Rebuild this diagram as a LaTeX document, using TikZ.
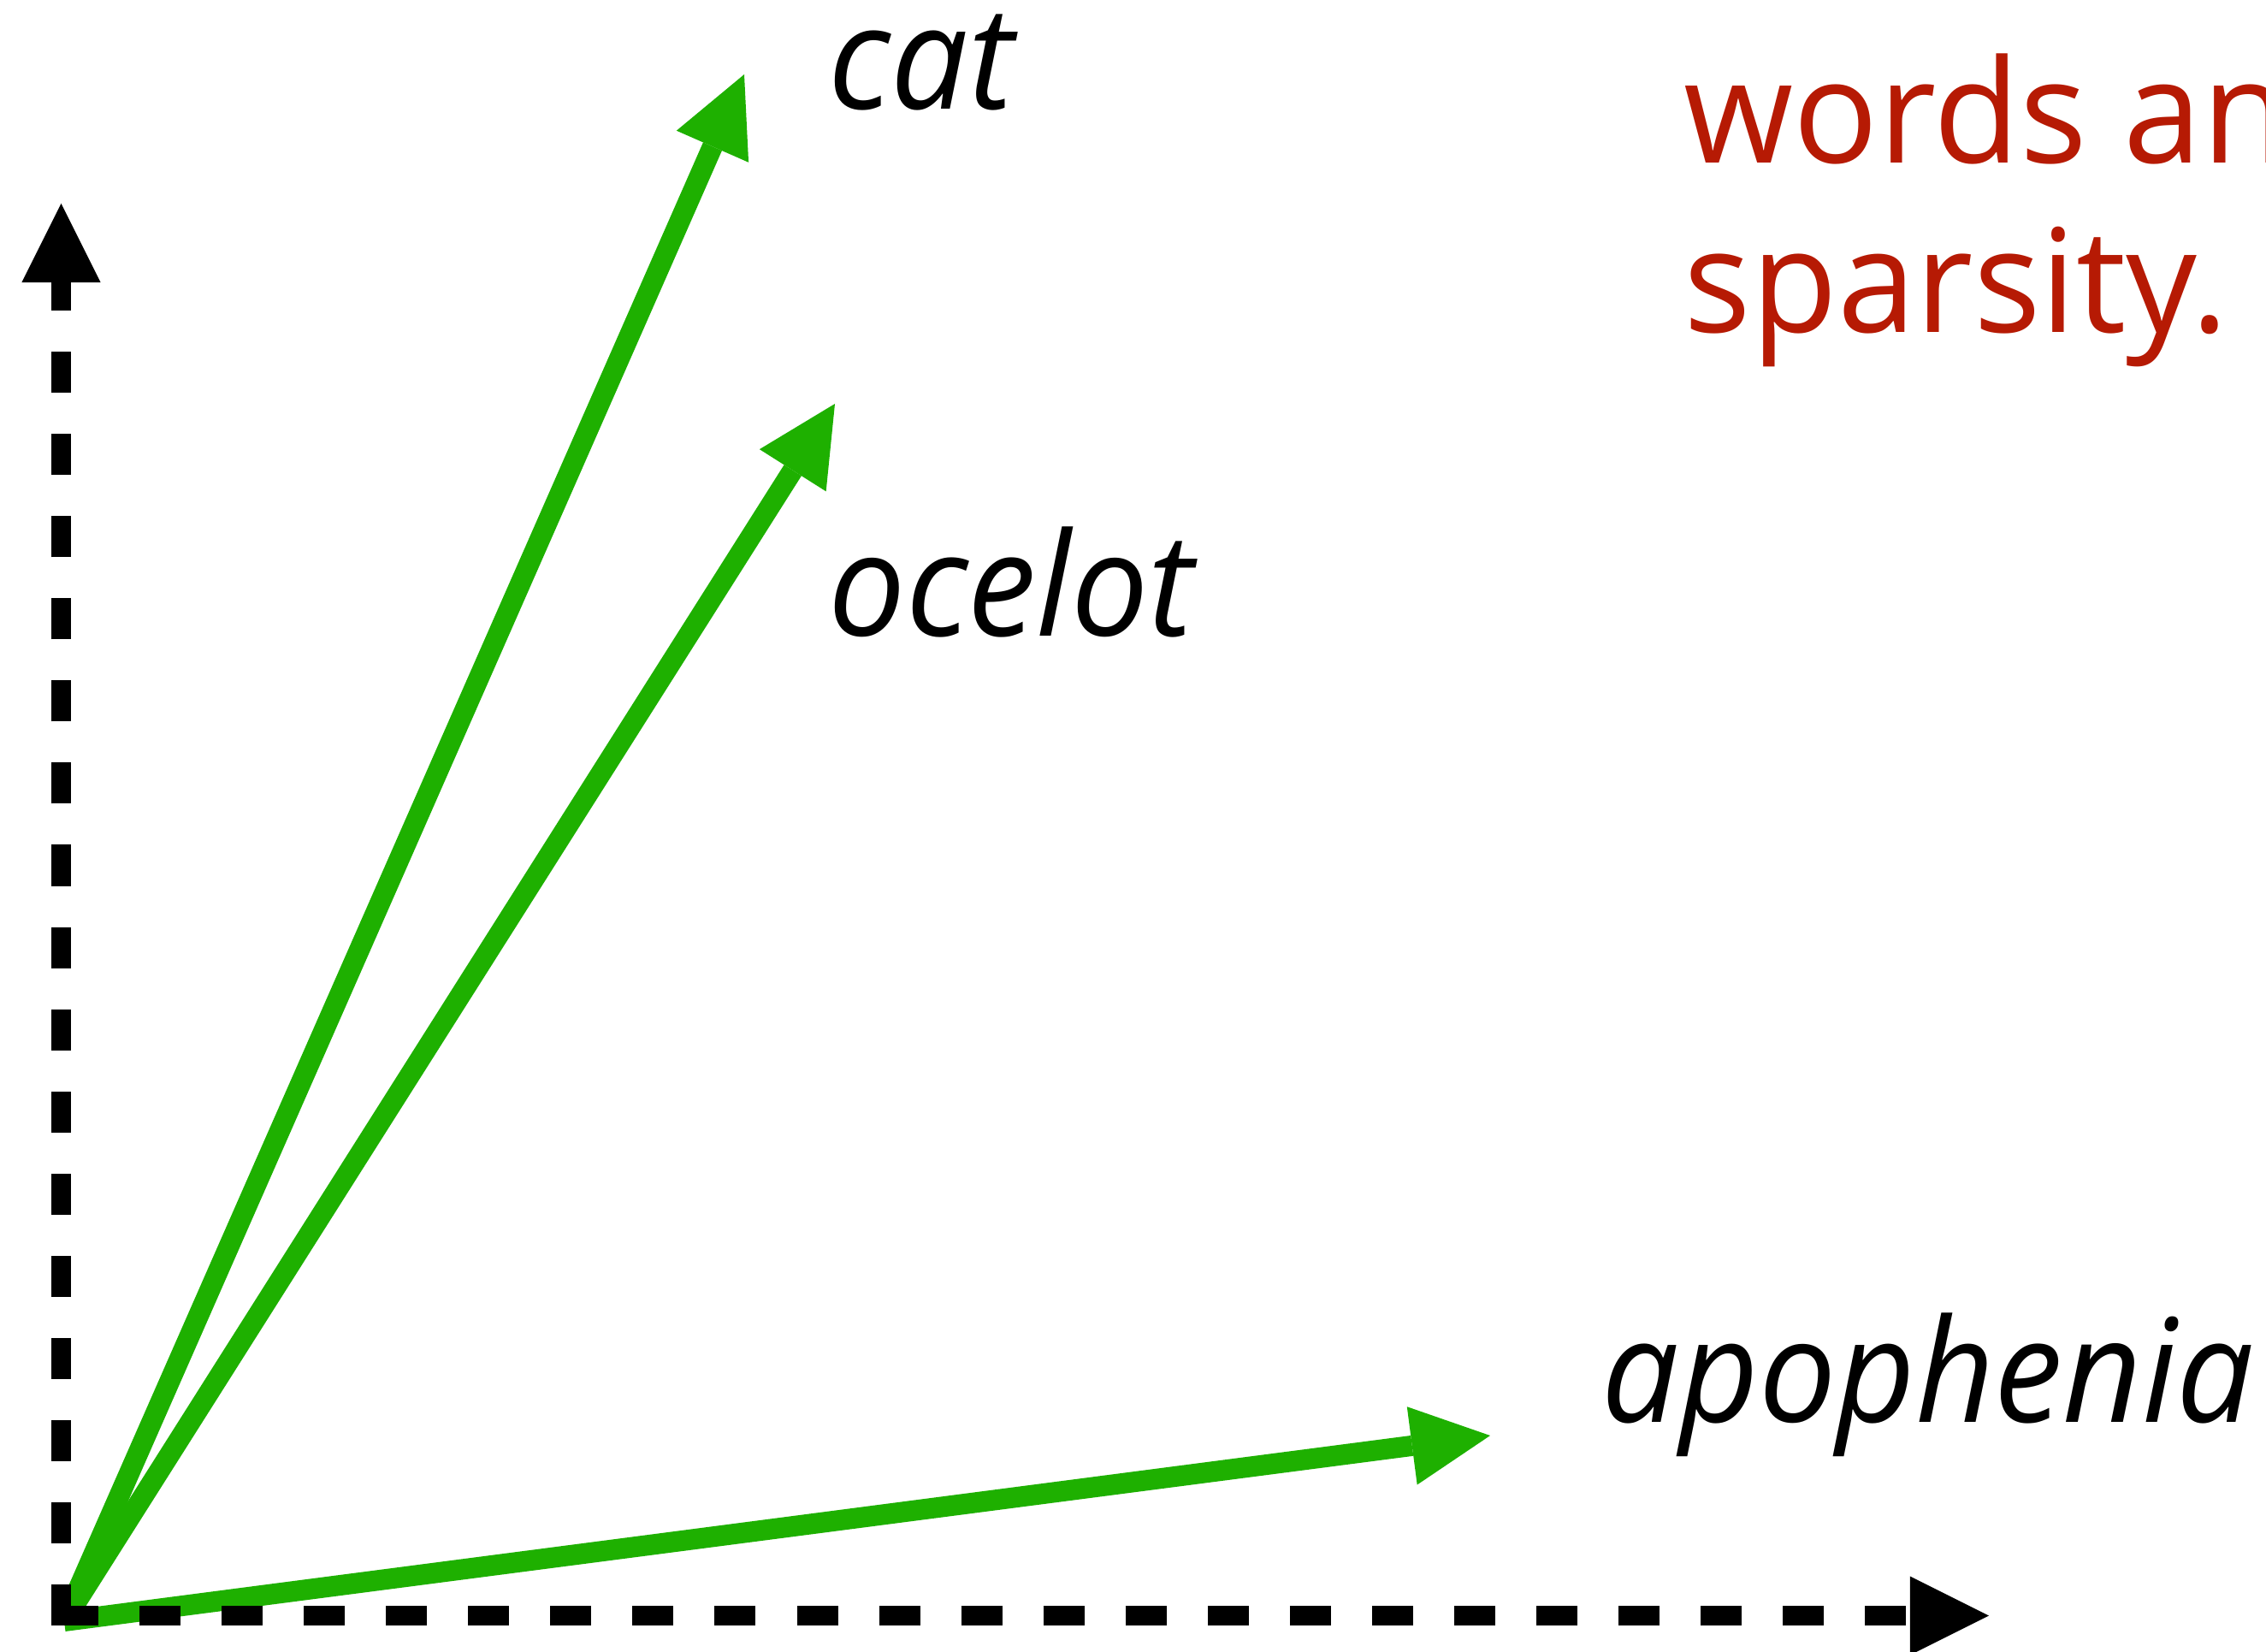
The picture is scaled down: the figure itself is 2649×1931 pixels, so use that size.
\documentclass[tikz,border=0pt]{standalone}
\usepackage{fontspec}
\setmainfont{Open Sans}[FakeStretch=0.955]
\newfontfamily\notefont{Open Sans}[FakeStretch=0.98]
\usetikzlibrary{arrows.meta}
\definecolor{vecgreen}{RGB}{30,176,0}
\definecolor{notered}{RGB}{182,26,4}
\tikzset{
    axis/.style={line width=0.23cm, dash pattern=on 0.48cm off 0.48cm,
        -{Triangle[length=0.92cm,width=0.92cm,line width=0pt]}},
    vec/.style={line width=0.24cm, vecgreen,
        -{Triangle[length=0.92cm,width=0.92cm,line width=0pt]}},
    word/.style={anchor=base west, inner sep=0pt, font=\fontsize{47.8}{58}\selectfont\itshape},
    note/.style={anchor=base west, inner sep=0pt, text=notered, font=\notefont\fontsize{47.8}{58}\selectfont}
}
\begin{document}
\begin{tikzpicture}[x={(0.01cm,0)}, y={(0,-0.01cm)}]
            \useasboundingbox (0,0) rectangle (2649,1931);
            \coordinate (o) at (75,1895);
            \coordinate (catv) at (870,87);
            \coordinate (ocelotv) at (976,472);
            \coordinate (apopheniav) at (1742,1678);
            \coordinate (xo) at (67,1888.5);
            \coordinate (xend) at (2325,1888.5);
            \coordinate (yo) at (71.5,1900);
            \coordinate (yend) at (71.5,238);
            \draw[vec] (o) -- (catv);
            \draw[vec] (o) -- (ocelotv);
            \draw[vec] (o) -- (apopheniav);
            \draw[axis] (yo) -- (yend);
            \draw[axis] (xo) -- (xend);
            \node[word] at (968,128) (cat) {cat};
            \node[word] at (968,743) (ocelot) {ocelot};
            \node[word] at (1872,1662) (apophenia) {apophenia};
            \node[note] at (1968,191) (words) {words an};
            \node[note] at (1968,389) (sparsity) {sparsity.};
        \end{tikzpicture}
\end{document}
